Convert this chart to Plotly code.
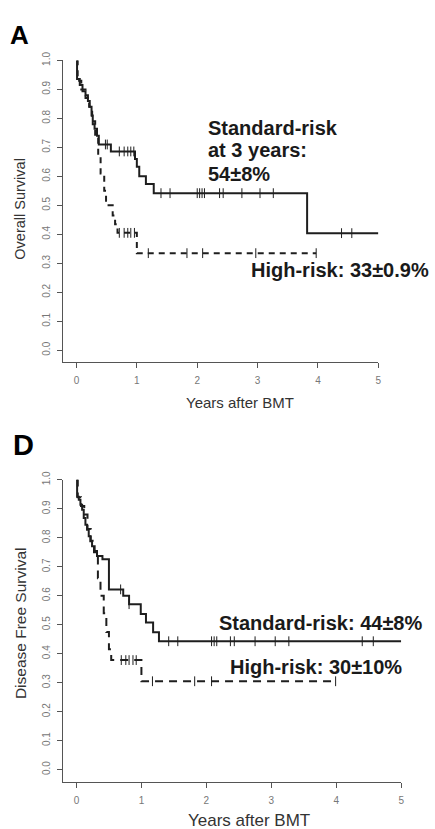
import numpy as np
import plotly.graph_objects as go

# ---------------- Data ----------------
# Panel A: Overall survival, Kaplan-Meier steps (time in years, survival)
a_std_t = [0, 0.01, 0.055, 0.10, 0.15, 0.19, 0.22, 0.25, 0.27, 0.30, 0.34, 0.37, 0.57, 0.97, 1.00, 1.04, 1.15, 1.28, 3.82]
a_std_s = [1.0, 0.936, 0.915, 0.894, 0.88, 0.86, 0.84, 0.81, 0.78, 0.764, 0.74, 0.71, 0.686, 0.66, 0.633, 0.60, 0.574, 0.542, 0.404]
a_std_end = 5.0
a_std_cens = [0.48, 0.51, 0.71, 0.79, 0.85, 0.90, 0.95, 1.40, 1.55, 2.00, 2.04, 2.08, 2.12, 2.37, 2.43, 2.74, 3.04, 3.26, 4.39, 4.56]

a_high_t = [0, 0.02, 0.08, 0.15, 0.21, 0.26, 0.31, 0.36, 0.40, 0.46, 0.49, 0.60, 0.64, 0.68, 1.00]
a_high_s = [1.0, 0.93, 0.90, 0.87, 0.84, 0.79, 0.74, 0.67, 0.61, 0.55, 0.50, 0.465, 0.435, 0.405, 0.335]
a_high_end = 3.97
a_high_cens = [0.71, 0.79, 0.85, 0.90, 0.96, 1.19, 1.83, 2.09, 2.97, 3.97]

# Panel D: Disease free survival
d_std_t = [0, 0.01, 0.036, 0.061, 0.087, 0.112, 0.138, 0.163, 0.189, 0.214, 0.24, 0.28, 0.316, 0.40, 0.50, 0.72, 0.81, 0.99, 1.07, 1.18, 1.27]
d_std_s = [1.0, 0.942, 0.931, 0.914, 0.897, 0.868, 0.845, 0.828, 0.805, 0.788, 0.771, 0.754, 0.737, 0.726, 0.622, 0.60, 0.571, 0.537, 0.508, 0.474, 0.443]
d_std_end = 5.0
d_std_cens = [0.68, 0.81, 1.42, 1.56, 2.08, 2.12, 2.16, 2.37, 2.43, 2.75, 3.06, 3.27, 4.40, 4.57]

d_high_t = [0, 0.02, 0.07, 0.12, 0.17, 0.22, 0.27, 0.33, 0.37, 0.42, 0.46, 0.50, 0.535, 1.00]
d_high_s = [1.0, 0.94, 0.91, 0.88, 0.83, 0.79, 0.75, 0.66, 0.60, 0.54, 0.475, 0.415, 0.378, 0.305]
d_high_end = 3.99
d_high_cens = [0.69, 0.76, 0.81, 0.87, 0.92, 1.17, 1.82, 2.08, 3.99]

x_ticks = [0, 1, 2, 3, 4, 5]
y_ticks = [0.0, 0.1, 0.2, 0.3, 0.4, 0.5, 0.6, 0.7, 0.8, 0.9, 1.0]
y_ticklabels = ["0.0", "0.1", "0.2", "0.3", "0.4", "0.5", "0.6", "0.7", "0.8", "0.9", "1.0"]

FONT = "Liberation Sans, Arial, sans-serif"
W, H = 435, 829
LINE_C = "#1e1e1e"


def step_at(times, surv, t):
    idx = np.searchsorted(np.asarray(times), t, side="right") - 1
    return np.asarray(surv)[idx]


fig = go.Figure()


def add_curve(times, surv, end, cens, xa, ya, dash):
    xs = list(times) + [end]
    ys = list(surv) + [surv[-1]]
    fig.add_trace(go.Scatter(x=xs, y=ys, mode="lines", line_shape="hv",
                             line=dict(color=LINE_C, width=2, dash=dash),
                             xaxis=xa, yaxis=ya, showlegend=False, hoverinfo="skip"))
    cy = step_at(times, surv, np.asarray(cens))
    fig.add_trace(go.Scatter(x=cens, y=cy, mode="markers",
                             marker=dict(symbol="line-ns", size=7,
                                         line=dict(color=LINE_C, width=1)),
                             xaxis=xa, yaxis=ya, showlegend=False, hoverinfo="skip"))


add_curve(a_std_t, a_std_s, a_std_end, a_std_cens, "x", "y", "solid")
add_curve(a_high_t, a_high_s, a_high_end, a_high_cens, "x", "y", "6px,5px")
add_curve(d_std_t, d_std_s, d_std_end, d_std_cens, "x2", "y2", "solid")
add_curve(d_high_t, d_high_s, d_high_end, d_high_cens, "x2", "y2", "8px,6px")


def px_x(p):
    return p / W


def px_y(p):
    return 1 - p / H


axis_common = dict(showline=True, linecolor="#555555", linewidth=1, ticks="outside",
                   ticklen=5, tickwidth=1, tickcolor="#555555", showgrid=False,
                   zeroline=False, tickfont=dict(family=FONT, size=10, color="#777777"))

fig.update_layout(
    width=W, height=H, margin=dict(l=0, r=0, t=0, b=0),
    paper_bgcolor="white", plot_bgcolor="white",
    xaxis=dict(domain=[px_x(63), px_x(381)], range=[-0.23, 5.0], anchor="y",
               tickvals=x_ticks, ticklabelstandoff=4, **axis_common),
    yaxis=dict(domain=[px_y(357), px_y(52)], range=[-0.041, 1.0], anchor="x",
               tickvals=y_ticks, ticktext=y_ticklabels, tickangle=-90,
               ticklabelstandoff=3, **axis_common),
    xaxis2=dict(domain=[px_x(63), px_x(404)], range=[-0.214, 5.0], anchor="y2",
                tickvals=x_ticks, ticklabelstandoff=4, **axis_common),
    yaxis2=dict(domain=[px_y(781), px_y(476)], range=[-0.041, 1.0], anchor="x2",
                tickvals=y_ticks, ticktext=y_ticklabels, tickangle=-90,
                ticklabelstandoff=3, **axis_common),
)


def ann(text, x, y, size, bold=False, color="#1a1a1a", angle=0, xanchor="left"):
    fig.add_annotation(text=f"<b>{text}</b>" if bold else text,
                       x=px_x(x), y=px_y(y), xref="paper", yref="paper",
                       xanchor=xanchor, yanchor="middle", showarrow=False,
                       textangle=angle, borderpad=0,
                       font=dict(family=FONT, size=size, color=color))


# Panel letters
ann("A", 9, 26, 26, bold=True, color="black")
ann("D", 12, 441, 29, bold=True, color="black")

# Axis titles
ann("Years after BMT", 242, 398, 15, color="#333333", xanchor="center")
ann("Overall Survival", 20, 202, 14.5, color="#333333", angle=-90, xanchor="center")
ann("Years after BMT", 251, 820, 17, color="#333333", xanchor="center")
ann("Disease Free Survival", 20, 621, 15.5, color="#333333", angle=-90, xanchor="center")

# Panel A text
ann("Standard-risk", 208, 120, 20, bold=True)
ann("at 3 years:", 208, 143, 20, bold=True)
ann("54±8%", 208, 167, 20, bold=True)
ann("High-risk: 33±0.9%", 252, 264, 20, bold=True)

# Panel D text
ann("Standard-risk: 44±8%", 220, 621, 20, bold=True)
ann("High-risk: 30±10%", 231, 665, 20, bold=True)

fig.write_html("out.html", config={"displayModeBar": False},
               post_script="document.body.style.margin='0px';document.body.style.overflow='hidden';")
